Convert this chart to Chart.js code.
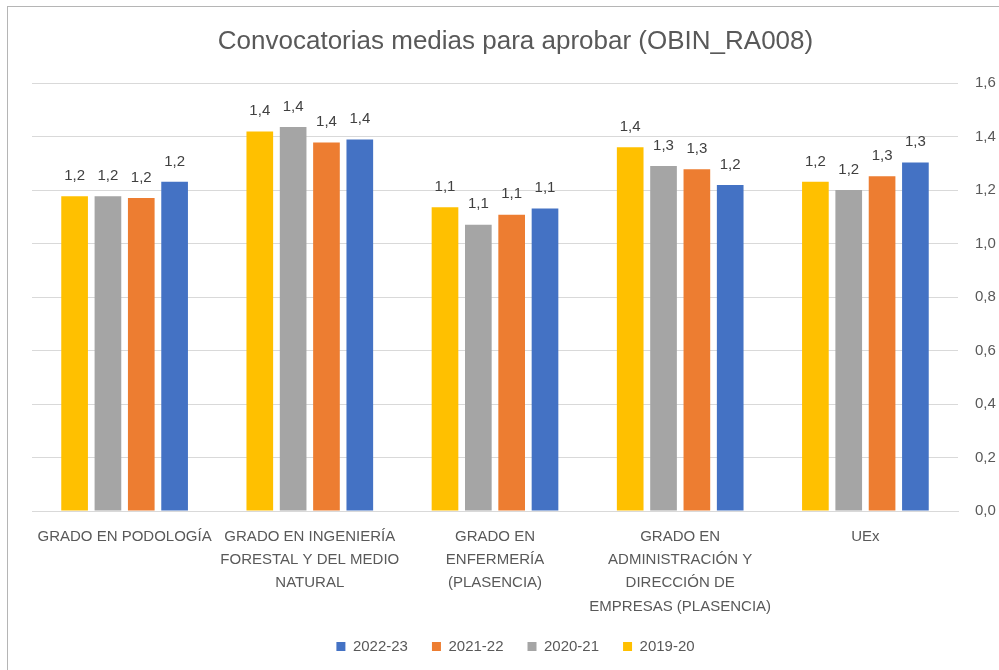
<!DOCTYPE html>
<html>
<head>
<meta charset="utf-8">
<script src="https://cdn.jsdelivr.net/npm/chart.js@4.4.1/dist/chart.umd.min.js"></script>
<style>
  html, body { margin: 0; padding: 0; background: #fff; }
  #marco { position: absolute; left: 7px; top: 6px; width: 1000px; height: 700px;
           border-left: 1px solid #b5b5b5; border-top: 1px solid #b5b5b5; }
  #wrap { position: absolute; left: 0; top: 0; width: 999px; height: 670px; }
</style>
</head>
<body>
<div id="marco"></div>
<div id="wrap"><canvas id="grafico"></canvas></div>
<script>
// Datos del gráfico
const titulo = 'Convocatorias medias para aprobar (OBIN_RA008)';
const categorias = [
    ['GRADO EN PODOLOGÍA'],
    ['GRADO EN INGENIERÍA', 'FORESTAL Y DEL MEDIO', 'NATURAL'],
    ['GRADO EN', 'ENFERMERÍA', '(PLASENCIA)'],
    ['GRADO EN', 'ADMINISTRACIÓN Y', 'DIRECCIÓN DE', 'EMPRESAS (PLASENCIA)'],
    ['UEx']
];
const cursos = ['2019-20', '2020-21', '2021-22', '2022-23'];
const v2019 = [1.177, 1.419, 1.136, 1.360, 1.231];
const v2020 = [1.177, 1.436, 1.071, 1.290, 1.201];
const v2021 = [1.171, 1.378, 1.108, 1.278, 1.252];
const v2022 = [1.231, 1.389, 1.131, 1.219, 1.303];
const colores = ['#FFC000', '#A5A5A5', '#ED7D31', '#4472C4'];
const ticksY = [0, 0.2, 0.4, 0.6, 0.8, 1.0, 1.2, 1.4, 1.6];

const fuente = '"Liberation Sans Narrow", "Liberation Sans", sans-serif';
const gris = '#595959';

//Plugin para las etiquetas encima de cada barra
const etiquetasValor = {
    id: 'etiquetasValor',
    afterDatasetsDraw(chart) {
        const ctx = chart.ctx;
        ctx.save();
        ctx.font = '15px ' + fuente;
        ctx.fillStyle = '#404040';
        ctx.textAlign = 'center';
        ctx.textBaseline = 'bottom';
        chart.data.datasets.forEach((ds, i) => {
            const meta = chart.getDatasetMeta(i);
            if (meta.hidden) return;
            meta.data.forEach((bar, j) => {
                const txt = ds.data[j].toFixed(1).replace('.', ',');
                ctx.fillText(txt, bar.x, bar.y - 13);
            });
        });
        ctx.restore();
    }
};

const series = [v2019, v2020, v2021, v2022];

new Chart(document.getElementById('grafico'), {
    type: 'bar',
    data: {
        labels: categorias,
        datasets: cursos.map((c, i) => ({
            label: c,
            data: series[i],
            backgroundColor: colores[i],
            borderWidth: 0,
            categoryPercentage: 0.72,
            barPercentage: 0.8
        }))
    },
    options: {
        responsive: true,
        maintainAspectRatio: false,
        animation: false,
        layout: { padding: { left: 32, right: 0, top: 18, bottom: 6 } },
        plugins: {
            title: {
                display: true,
                text: titulo,
                color: gris,
                font: { family: fuente, size: 26, weight: 'normal' },
                padding: { top: 8, bottom: 26 }
            },
            legend: {
                position: 'bottom',
                reverse: true,
                labels: {
                    color: gris,
                    font: { family: fuente, size: 15 },
                    boxWidth: 9,
                    boxHeight: 9,
                    padding: 24
                }
            },
            tooltip: { enabled: false }
        },
        scales: {
            x: {
                grid: { display: false, drawTicks: false },
                border: { display: true, color: '#d9d9d9' },
                ticks: {
                    color: gris,
                    font: { family: fuente, size: 15, lineHeight: 1.55 },
                    maxRotation: 0,
                    minRotation: 0,
                    autoSkip: false,
                    padding: 14
                },
                afterFit(scale) { scale.height = 104; }
            },
            y: {
                position: 'right',
                min: 0,
                max: 1.6,
                afterBuildTicks(scale) { scale.ticks = ticksY.map(v => ({ value: v })); },
                grid: { color: '#d9d9d9', lineWidth: 1, drawTicks: false },
                border: { display: false },
                ticks: {
                    color: gris,
                    font: { family: fuente, size: 15 },
                    padding: 17,
                    callback: v => v.toFixed(1).replace('.', ',')
                },
                afterFit(scale) { scale.width = 41; }
            }
        }
    },
    plugins: [etiquetasValor]
});
</script>
</body>
</html>
